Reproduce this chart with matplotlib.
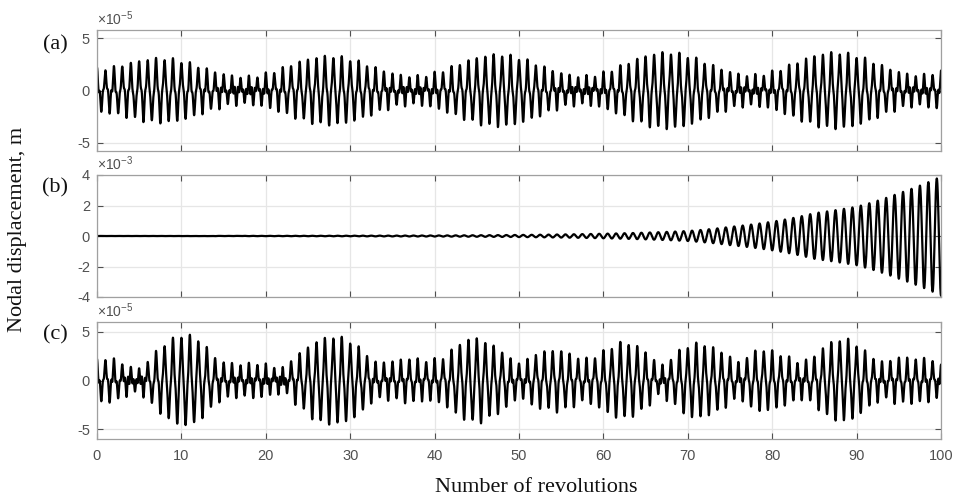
import numpy as np
import matplotlib.pyplot as plt

# ---------------------------------------------------------------------------
# Data: amplitude envelopes of the nodal displacement responses
# ---------------------------------------------------------------------------
# (a) beating response, units of 1e-5 m: crest/trough revolutions and amplitude
env_a_rev = [0.0, 7.5, 17.5, 27.5, 37.5, 47.5, 57.5, 67.5, 77.5, 87.5, 97.5, 100.0]
env_a_amp = [2.2, 3.2, 1.45, 3.4, 1.5, 3.55, 1.5, 3.75, 1.6, 3.75, 1.6, 1.9]

# (b) growing (unstable) response, units of 1e-3 m
env_b_rev = [0, 20, 30, 40, 50, 60, 70, 75, 80, 85, 90, 95, 100]
env_b_amp = [0.004, 0.01, 0.02, 0.035, 0.07, 0.15, 0.33, 0.6, 0.94, 1.5, 1.92, 2.8, 3.9]

# (c) irregularly modulated response, units of 1e-5 m
env_c_rev = [0, 1, 2, 3, 4, 5, 6, 7, 8, 9, 10, 11, 12, 13, 14, 15, 17, 19, 21,
             22.2, 23.4, 24.5, 25.6, 26.7, 27.8, 28.9, 30.1, 31.1, 32, 33, 35,
             37, 39, 40, 41, 42, 43, 44.2, 45.2, 46.2, 47.2, 48.2, 49.2, 50.5,
             52, 53.5, 54.4, 55.3, 56.3, 57.5, 58.7, 59.9, 60.8, 61.8, 62.8,
             63.8, 64.8, 65.7, 66.7, 68, 69.6, 70.6, 71.6, 72.6, 73.5, 74.5, 76,
             78, 79, 80, 81, 82, 83.2, 84.3, 85, 86, 87, 88, 89, 90, 91, 92,
             93.2, 95, 97, 99, 100]
env_c_amp = [2.2, 2.4, 2.3, 1.9, 1.5, 1.4, 2.1, 3.1, 3.8, 4.4, 4.7, 4.7, 4.3,
             3.5, 2.5, 2.0, 1.8, 1.9, 1.6, 1.4, 2.5, 3.2, 4.0, 4.4, 4.6, 4.5,
             4.1, 3.5, 2.8, 2.0, 2.1, 2.4, 2.2, 2.3, 2.5, 3.2, 3.9, 4.3, 4.5,
             4.0, 3.6, 3.1, 2.2, 2.0, 2.9, 3.1, 3.3, 3.1, 2.8, 2.3, 2.5, 3.1,
             3.5, 4.0, 3.9, 3.7, 3.1, 2.5, 1.6, 2.4, 3.5, 3.9, 3.9, 3.6, 3.3,
             2.8, 2.0, 3.1, 3.3, 3.1, 2.8, 2.5, 2.0, 2.3, 2.6, 3.5, 4.0, 4.3,
             4.3, 3.8, 3.1, 2.5, 2.0, 2.5, 2.4, 2.3, 1.6]

# oscillation content: carrier (cycles per revolution), locked 3rd harmonic
# and a weaker non-synchronous component
carrier_freq = 1.0
harmonic_order = 3
harmonic_amp = [0.55, 0.6]          # panels (a), (c)
nonsync_freq = 2.45
nonsync_amp = [0.16, 0.16]          # panels (a), (c)

x_ticks = [0, 10, 20, 30, 40, 50, 60, 70, 80, 90, 100]
panel_labels = ["(a)", "(b)", "(c)"]
exponents = ["-5", "-3", "-5"]


def eased(x, xk, yk):
    """Smooth (half-cosine) interpolation through envelope knots."""
    xk = np.asarray(xk, float)
    yk = np.asarray(yk, float)
    i = np.clip(np.searchsorted(xk, x, side="right") - 1, 0, len(xk) - 2)
    t = np.clip((x - xk[i]) / (xk[i + 1] - xk[i]), 0, 1)
    w = (1 - np.cos(np.pi * t)) / 2
    return yk[i] + (yk[i + 1] - yk[i]) * w


def modulated(x, xk, yk, h, n):
    theta = 2 * np.pi * carrier_freq * x
    main = eased(x, xk, yk) - h - n
    return (main * np.cos(theta) + h * np.cos(harmonic_order * theta)
            + n * np.cos(2 * np.pi * nonsync_freq * x))


rev = np.linspace(0, 100, 24001)

y_a = modulated(rev, env_a_rev, env_a_amp, harmonic_amp[0], nonsync_amp[0])
amp_b = np.exp(np.interp(rev, env_b_rev, np.log(env_b_amp)))
y_b = -amp_b * np.cos(2 * np.pi * carrier_freq * rev)
y_c = modulated(rev, env_c_rev, env_c_amp, harmonic_amp[1], nonsync_amp[1])

# ---------------------------------------------------------------------------
# Figure
# ---------------------------------------------------------------------------
plt.rcParams["font.family"] = ["Liberation Sans", "DejaVu Sans"]
plt.rcParams["mathtext.fontset"] = "custom"
plt.rcParams["mathtext.rm"] = "Liberation Sans"
plt.rcParams["mathtext.it"] = "Liberation Sans"

W, H = 954, 495
fig = plt.figure(figsize=(W / 100, H / 100), dpi=100)

left = 97 / W
width = (941 - 97) / W
boxes = [(30, 151), (175, 297), (322, 439)]
series = [y_a, y_b, y_c]
ylims = [(-5.8, 5.8), (-4, 4), (-6, 6)]
yticks = [[-5, 0, 5], [-4, -2, 0, 2, 4], [-5, 0, 5]]
label_y = [45, 188, 335]

tick_color = "#505050"
frame_color = "#a0a0a0"

for k, (top, bot) in enumerate(boxes):
    ax = fig.add_axes([left, 1 - bot / H, width, (bot - top) / H])
    ax.plot(rev, series[k], color="black", lw=1.6, solid_joinstyle="round")
    ax.set_xlim(0, 100)
    ax.set_ylim(*ylims[k])
    ax.set_xticks(x_ticks)
    ax.set_yticks(yticks[k])
    ax.set_yticklabels([str(v) for v in yticks[k]])
    ax.grid(True, color="#e6e6e6", lw=0.9)
    ax.set_axisbelow(True)
    ax.tick_params(direction="in", length=4, width=0.8, colors=tick_color,
                   labelsize=10.5, top=True, right=True, pad=5)
    ax.tick_params(axis="x", pad=7)
    for sp in ax.spines.values():
        sp.set_color(frame_color)
        sp.set_linewidth(0.9)
    if k < 2:
        ax.tick_params(labelbottom=False)
    ax.text(0.0, 1.015, "\u00d710$^{" + exponents[k] + "}$", transform=ax.transAxes,
            ha="left", va="bottom", fontsize=10, color=tick_color)
    fig.text(55 / W, 1 - label_y[k] / H, panel_labels[k], ha="center", va="center",
             fontsize=16, family="Liberation Serif", color="#111111")

fig.text(18 / W, 1 - 229 / H, "Nodal displacement, m", rotation=90,
         ha="center", va="center", fontsize=16, family="Liberation Serif",
         color="#111111")
fig.text(536 / W, 1 - 487 / H, "Number of revolutions", ha="center", va="center",
         fontsize=16, family="Liberation Serif", color="#111111")

fig.savefig("out.png", dpi=100)
